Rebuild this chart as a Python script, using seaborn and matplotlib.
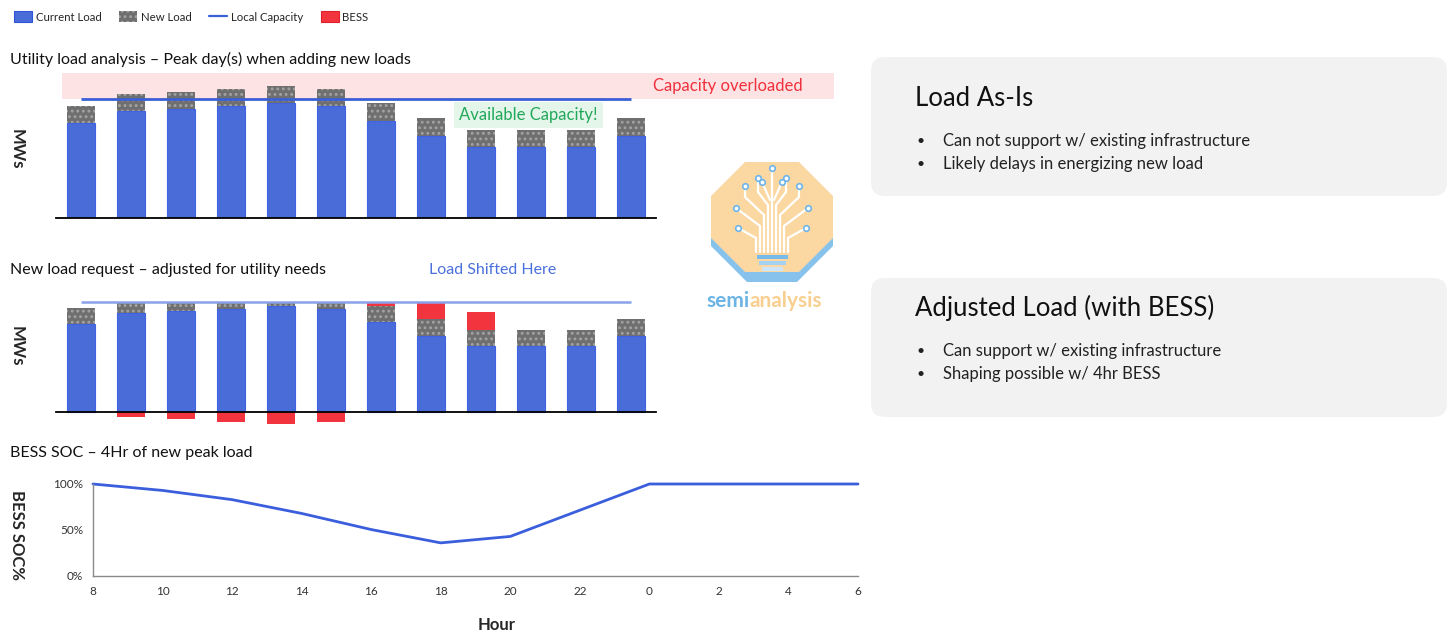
import numpy as np
import pandas as pd
import matplotlib
matplotlib.use("Agg")
import matplotlib.pyplot as plt
import seaborn as sns
from matplotlib.patches import Rectangle, FancyBboxPatch, Polygon, Patch
from matplotlib.lines import Line2D

# ---------------- data ----------------
hours = ["8", "10", "12", "14", "16", "18", "20", "22", "0", "2", "4", "6"]
current_load = [79.5, 89.5, 91.5, 93.5, 96.0, 93.5, 81.5, 69.0, 59.5, 59.5, 59.5, 69.0]
new_load = [14.5, 14.5, 14.5, 14.5, 14.5, 14.5, 14.5, 14.5, 14.5, 14.5, 14.5, 14.5]
new_load_served = [14.5, 10.5, 8.5, 6.5, 4.0, 6.5, 15.0, 15.0, 15.0, 15.0, 15.0, 15.0]
bess = [0.0, -4.0, -6.5, -9.0, -10.5, -9.0, 3.0, 15.6, 16.0, 0.0, 0.0, 0.0]
local_capacity = 100.0
soc = [100, 93, 83, 68, 50.5, 36, 43, 71.5, 100, 100, 100, 100]

# ---------------- style ----------------
sns.set_style("white")
plt.rcParams["font.family"] = ["Lato", "DejaVu Sans"]
plt.rcParams["hatch.linewidth"] = 1.3

BLUE = "#4a6cd9"
BLUE_EDGE = "#3f63e2"
GRAY = "#6f6f6f"
HATCH_C = "#a3a3a3"
RED = "#f2343e"
CAP_BLUE = "#3b5fd6"

W, H = 1456, 634
fig = plt.figure(figsize=(W / 100, H / 100), dpi=100)


def fr(x0, y0, x1, y1):
    return [x0 / W, 1 - y1 / H, (x1 - x0) / W, (y1 - y0) / H]


# overlay in pixel coordinates for decorations
ov = fig.add_axes([0, 0, 1, 1], zorder=-1)
ov.set_xlim(0, W)
ov.set_ylim(H, 0)
ov.axis("off")
ov.patch.set_visible(False)

df = pd.DataFrame({"hour": hours, "current": current_load, "new": new_load,
                   "served": new_load_served, "bess": bess})
df["total"] = df["current"] + df["new"]
df["total2"] = df["current"] + df["served"]
df["bess_pos"] = df["total2"] + df["bess"].clip(lower=0)
df["bess_neg"] = df["bess"].clip(upper=0)

bar_kw = dict(width=0.56, saturation=1, errorbar=None, order=hours)

# ---------------- top chart ----------------
ax1 = fig.add_axes(fr(56, 80, 656, 218))
ax1.patch.set_visible(False)
sns.barplot(data=df, x="hour", y="total", color=GRAY, hatch="...", edgecolor=HATCH_C,
            linewidth=0, ax=ax1, **bar_kw)
sns.barplot(data=df, x="hour", y="current", color=BLUE, edgecolor=BLUE_EDGE,
            linewidth=0.8, ax=ax1, **bar_kw)
ax1.hlines(local_capacity, 0, len(hours) - 1, color=CAP_BLUE, lw=2, zorder=3)
ax1.add_patch(Rectangle((-0.38, local_capacity), 15.44, 21.8, facecolor="#fde3e3",
                        edgecolor="none", clip_on=False, zorder=0.5))
ax1.text(12.94, 110.6, "Capacity overloaded", color="#f0303c", fontsize=12,
         ha="center", va="center")
ax1.text(8.95, 86.3, "Available Capacity!", color="#22a85a", fontsize=12,
         ha="center", va="center",
         bbox=dict(boxstyle="square,pad=0.3", facecolor="#e4f5ea", edgecolor="none"))
ax1.set_xlim(-0.5, len(hours) - 0.5)
ax1.set_ylim(0, (218 - 80) / 1.193)

# ---------------- middle chart ----------------
ax2 = fig.add_axes(fr(56, 290, 656, 428))
ax2.patch.set_visible(False)
sns.barplot(data=df, x="hour", y="bess_pos", color=RED, linewidth=0, ax=ax2, **bar_kw)
sns.barplot(data=df, x="hour", y="total2", color=GRAY, hatch="...", edgecolor=HATCH_C,
            linewidth=0, ax=ax2, **bar_kw)
sns.barplot(data=df, x="hour", y="current", color=BLUE, edgecolor=BLUE_EDGE,
            linewidth=0.8, ax=ax2, **bar_kw)
sns.barplot(data=df, x="hour", y="bess_neg", color=RED, linewidth=0, ax=ax2, **bar_kw)
ax2.hlines(local_capacity, 0, len(hours) - 1, color="#8ba1ea", lw=1.8, zorder=3)
ax2.set_xlim(-0.5, len(hours) - 0.5)
ax2.set_ylim(-(428 - 412.3) / 1.106, (412.3 - 290) / 1.106)

for ax, ly in ((ax1, 0.5), (ax2, 0.594)):
    sns.despine(ax=ax, left=True)
    ax.spines["bottom"].set_color("black")
    ax.spines["bottom"].set_linewidth(1.3)
    ax.spines["bottom"].set_position(("data", 0))
    ax.set_xticks([])
    ax.set_yticks([])
    ax.set_xlabel("")
    ax.set_ylabel("MWs", fontsize=12, fontweight="bold", rotation=270, va="center")
    ax.yaxis.set_label_coords((17 - 56) / 600, ly)

# ---------------- bottom chart ----------------
ax3 = fig.add_axes(fr(93, 484, 858, 576))
ax3.patch.set_visible(False)
sdf = pd.DataFrame({"pos": np.arange(len(hours)), "soc": soc})
sns.lineplot(data=sdf, x="pos", y="soc", color="#3b5fdc", lw=2, ax=ax3, clip_on=False)
ax3.set_xlim(0, len(hours) - 1)
ax3.set_ylim(0, 100)
ax3.set_xticks(np.arange(len(hours)))
ax3.set_xticklabels(hours)
ax3.set_yticks([0, 50, 100])
ax3.set_yticklabels(["0%", "50%", "100%"])
ax3.tick_params(labelsize=8.5, colors="#333333", length=3, width=0.8, pad=4)
sns.despine(ax=ax3)
for s in ("left", "bottom"):
    ax3.spines[s].set_color("#8a8a8a")
    ax3.spines[s].set_linewidth(1)
ax3.set_xlabel("Hour", fontsize=12, fontweight="bold")
ax3.xaxis.set_label_coords((497 - 93) / 765, (576 - 617) / 92)
ax3.set_ylabel("BESS SOC%", fontsize=12, fontweight="bold", rotation=270, va="center")
ax3.yaxis.set_label_coords((17 - 93) / 765, 0.45)

# ---------------- titles ----------------
ov.text(10, 59, "Utility load analysis \u2013 Peak day(s) when adding new loads",
        fontsize=11.5, va="center", color="#111111")
ov.text(10, 270, "New load request \u2013 adjusted for utility needs",
        fontsize=11.5, va="center", color="#111111")
ov.text(493, 270, "Load Shifted Here", fontsize=11.5, va="center", ha="center",
        color="#4a70dc")
ov.text(10, 453, "BESS SOC \u2013 4Hr of new peak load",
        fontsize=11.5, va="center", color="#111111")

# ---------------- legend ----------------
handles = [
    Patch(facecolor=BLUE, edgecolor="#2f56d8", lw=0.8, label="Current Load"),
    Patch(facecolor=GRAY, hatch="...", edgecolor=HATCH_C, lw=0, label="New Load"),
    Line2D([], [], color=CAP_BLUE, lw=1.6, label="Local Capacity"),
    Patch(facecolor=RED, edgecolor="#e0202a", lw=0.8, label="BESS"),
]
fig.legend(handles=handles, loc="upper left", bbox_to_anchor=(14 / W, 1 - 11 / H),
           ncol=4, frameon=False, fontsize=8.2, handlelength=1.6, handleheight=1.15,
           handletextpad=0.3, columnspacing=1.55, borderpad=0, borderaxespad=0)

# ---------------- right-hand boxes ----------------
boxes = [
    (57, 196, 98, 141, "Load As-Is",
     ["Can not support w/ existing infrastructure",
      "Likely delays in energizing new load"]),
    (278, 417, 308, 351, "Adjusted Load (with BESS)",
     ["Can support w/ existing infrastructure",
      "Shaping possible w/ 4hr BESS"]),
]
for (y0, y1, ty, by, title, bullets) in boxes:
    ov.add_patch(FancyBboxPatch((871, y0), 576, y1 - y0,
                                boxstyle="round,pad=0,rounding_size=14",
                                facecolor="#f2f2f2", edgecolor="none"))
    ov.text(915, ty, title, fontsize=18.5, va="center", color="#111111")
    for i, b in enumerate(bullets):
        yy = by + i * 23
        ov.text(917, yy, "\u2022", fontsize=10, va="center", color="#222222")
        ov.text(943, yy, b, fontsize=12, va="center", color="#222222")

# ---------------- logo ----------------
def octagon(x0, y0, x1, y1, c):
    return [(x0 + c, y0), (x1 - c, y0), (x1, y0 + c), (x1, y1 - c),
            (x1 - c, y1), (x0 + c, y1), (x0, y1 - c), (x0, y0 + c)]

ov.add_patch(Polygon(octagon(711, 172, 833, 282, 36), closed=True,
                     facecolor="#86c2ec", edgecolor="none"))
ov.add_patch(Polygon(octagon(711, 162, 833, 272, 34), closed=True,
                     facecolor="#fbd8a2", edgecolor="none"))
branches = [
    [(764, 252), (764, 215), (745, 197), (745, 186)],
    [(768, 252), (768, 205), (758, 192), (758, 178)],
    [(772, 252), (772, 168)],
    [(776, 252), (776, 205), (786, 192), (786, 178)],
    [(780, 252), (780, 215), (799, 197), (799, 186)],
    [(760, 252), (760, 226), (736, 208)],
    [(784, 252), (784, 226), (808, 208)],
    [(756, 252), (756, 238), (738, 228)],
    [(788, 252), (788, 238), (806, 228)],
    [(770, 200), (762, 182)],
    [(774, 200), (782, 182)],
]
for br in branches:
    xs, ys = zip(*br)
    ov.plot(xs, ys, color="white", lw=1.6, solid_capstyle="round")
    ov.plot(xs[-1], ys[-1], "o", ms=4, mfc="white", mec="#6fb4e8", mew=1.2)
for (bx, by, bw, bc) in ((757, 255, 31, "#78baec"), (759, 261, 27, "#a6d1f2"),
                         (762, 267, 21, "#cde5f8")):
    ov.add_patch(Rectangle((bx, by), bw, 4, facecolor=bc, edgecolor="none"))
t1 = ov.text(706, 301, "semi", fontsize=15, fontweight="bold", color="#6cb4e4",
             va="center")
ov.annotate("analysis", xy=(1, 0.5), xycoords=t1, va="center", ha="left",
            fontsize=15, fontweight="bold", color="#f8cf8f")

fig.savefig("out.png", dpi=100)
